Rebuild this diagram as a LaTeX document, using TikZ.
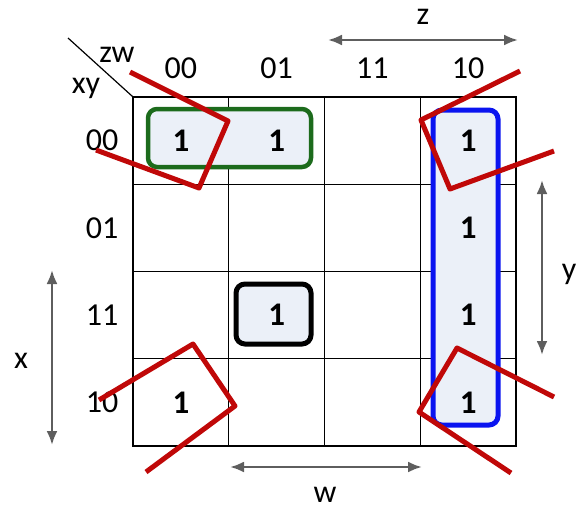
\documentclass[tikz,border=0pt]{standalone}
\usepackage{fontspec}
\setmainfont{Carlito}
\usepackage{tikz}
\usetikzlibrary{arrows.meta,positioning,calc}
\definecolor{kmgreen}{HTML}{1C6B1C}
\definecolor{kmblue}{HTML}{0A14F0}
\definecolor{kmred}{HTML}{C00808}
\definecolor{kmfill}{HTML}{EBF0F8}
\definecolor{kmgray}{HTML}{5E5E5E}
\tikzset{
  km/cell/.style={draw, line width=1.2pt, minimum width=95.75pt, minimum height=87.25pt, inner sep=0pt},
  km/one/.style={font=\fontsize{33}{36}\selectfont\bfseries, inner sep=0pt},
  km/head/.style={font=\fontsize{32}{36}\selectfont, inner sep=0pt},
  km/var/.style={font=\fontsize{32}{36}\selectfont, inner sep=0pt, anchor=base},
  km/group/.style={line width=5pt, rounded corners=9pt, fill=kmfill},
  km/loop/.style={draw=kmred, line width=5pt, line join=round},
  km/arr/.style={{Latex[length=14pt,width=11pt]}-{Latex[length=14pt,width=11pt]}, kmgray, line width=2.5pt}
}

\begin{document}
\begin{tikzpicture}[x=1pt, y=-1pt]
  \useasboundingbox (0,0) rectangle (578,511);

  % map cells
  \foreach \r in {0,...,3}
    \foreach \c in {0,...,3}
      \node[km/cell] (c\r\c) at ({133+95.75*(\c+0.5)},{97+87.25*(\r+0.5)}) {};

  \draw[line width=1.2pt] (68,38) coordinate (diag) -- (c00.north west);
  \node[km/var] (zw) at (117,63) {zw};
  \node[km/var] (xy) at (86,93) {xy};

  % column and row heads
  \foreach \c/\t in {0/00,1/01,2/11,3/10}
    \node[km/head] (col\c) at (c0\c |- 0,68) {\t};
  \foreach \r/\t in {0/00,1/01,2/11,3/10}
    \node[km/head] (row\r) at (102,0 |- c\r0) {\t};

  % groups
  \draw[km/group, draw=kmgreen, line width=4.5pt] (148,109) rectangle (311,167);
  \draw[km/group, draw=kmblue] (433,110) rectangle (498,425);
  \draw[km/group, draw=black] (236,284) rectangle (311,344);

  % ones
  \foreach \cc in {c00,c01,c03,c13,c21,c23,c30,c33}
    \node[km/one] at (\cc) {1};

  % corner loop
  \draw[km/loop] (130,72) -- (228,121) -- (199,188) -- (96,150);
  \draw[km/loop] (520,71) -- (421,120) -- (450,189) -- (554,151);
  \draw[km/loop] (99,400) -- (193,344) -- (235,406) -- (146,472);
  \draw[km/loop] (554,397) -- (457,348) -- (419,412) -- (511,473);

  % variable ranges
  \coordinate (zA) at (328,40);
  \coordinate (zB) at (518,40);
  \coordinate (yA) at (542,180);
  \coordinate (yB) at (542,355);
  \coordinate (xA) at (52,270);
  \coordinate (xB) at (52,445);
  \coordinate (wA) at (230,467);
  \coordinate (wB) at (422,467);
  \draw[km/arr] (zA) -- (zB);
  \draw[km/arr] (yA) -- (yB);
  \draw[km/arr] (xA) -- (xB);
  \draw[km/arr] (wA) -- (wB);
  \node[km/var] (zl) at (423,25) {z};
  \node[km/var] (yl) at (569,279) {y};
  \node[km/var] (xl) at (21,368) {x};
  \node[km/var] (wl) at (325,502) {w};
\end{tikzpicture}
\end{document}
